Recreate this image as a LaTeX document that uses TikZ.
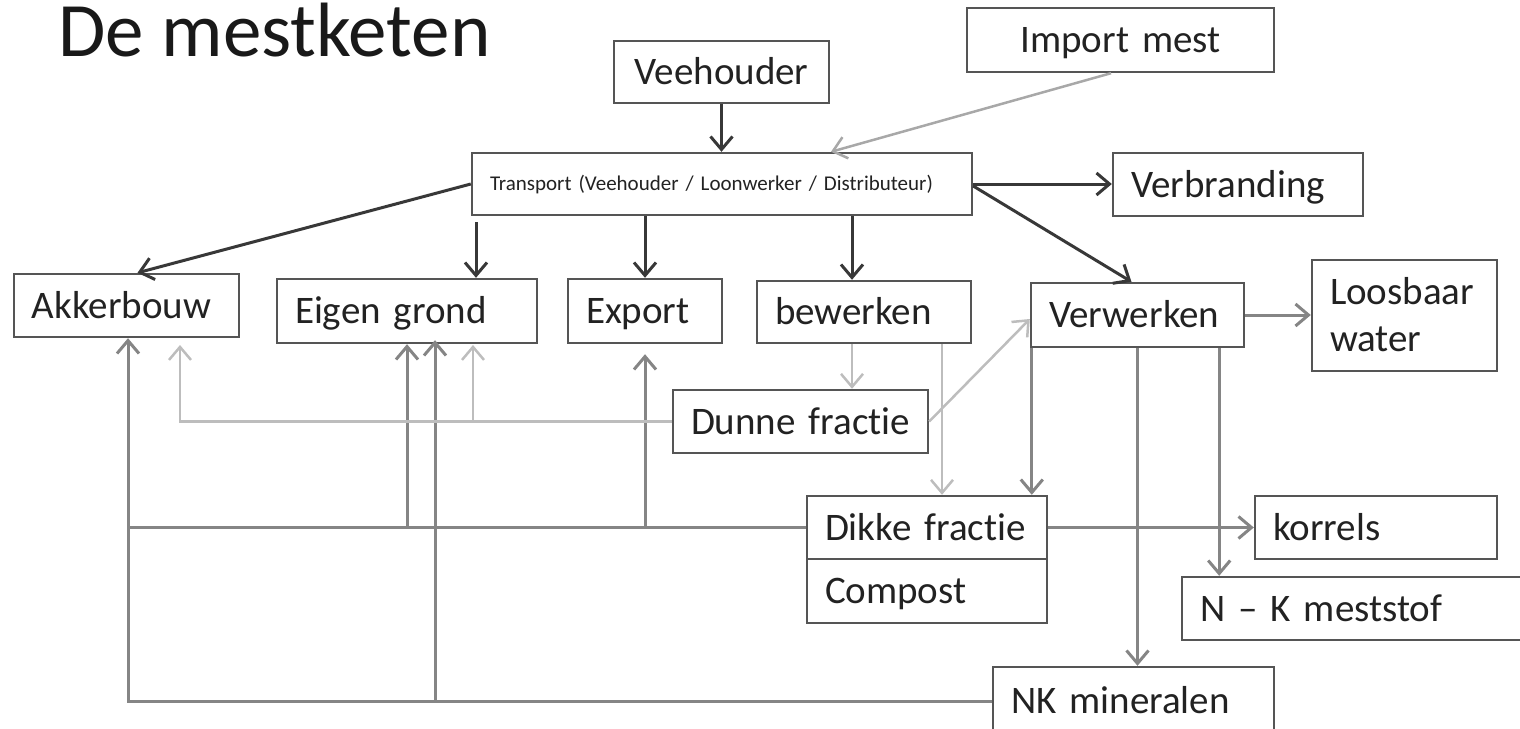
\documentclass[tikz,border=0pt]{standalone}
\usepackage{fontspec}
\setmainfont{Carlito}[Ligatures=NoCommon]
\usetikzlibrary{arrows.meta}
\definecolor{darkc}{HTML}{383838}
\definecolor{midc}{HTML}{858585}
\definecolor{lightc}{HTML}{BDBDBD}
\definecolor{impc}{HTML}{A8A8A8}
\definecolor{boxc}{HTML}{555555}
\definecolor{textc}{HTML}{222222}
\begin{document}
\begin{tikzpicture}[x=0.5pt,y=-0.5pt,
  box/.style={draw=boxc, line width=1.2pt, fill=white, inner xsep=9pt, inner ysep=0pt, text=textc,
    align=left, font=\fontsize{19.5}{23.5}\selectfont, text height=12.5pt, text depth=0pt},
  tip/.style={-{Straight Barb[length=6.5pt,width=11pt]}},
  darkarr/.style={tip, draw=darkc, line width=1.5pt},
  midarr/.style={tip, draw=midc, line width=1.5pt},
  midline/.style={draw=midc, line width=1.5pt},
  lightarr/.style={tip, draw=lightc, line width=1.25pt},
  lightline/.style={draw=lightc, line width=1.25pt},
  imparr/.style={tip, draw=impc, line width=1.25pt}]
\useasboundingbox (0,0) rectangle (1520,728);

\node[anchor=base west, inner sep=0pt, font=\fontsize{38.5}{46}\selectfont, text=black!90] (title) at (58,56) {De mestketen};

\node[box, align=center, minimum width=107.5pt, minimum height=31pt, text width=89.5pt] (veeh) at (721.5,72) {Veehouder};
\node[box, align=center, minimum width=153.5pt, minimum height=32pt, text width=135.5pt] (import) at (1120.5,40) {Import mest};
\node[box, minimum width=250pt, minimum height=31pt, text width=232pt, font=\fontsize{10.5}{12}\selectfont, text height=6.75pt] (transport) at (722,184) {Transport (Veehouder / Loonwerker / Distributeur)};
\node[box, minimum width=125pt, minimum height=31.5pt, text width=107pt] (verbr) at (1238,184.5) {Verbranding};
\node[box, minimum width=112.5pt, minimum height=31.5pt, text width=94.5pt] (akker) at (126.5,305.5) {Akkerbouw};
\node[box, minimum width=130pt, minimum height=32pt, text width=112pt] (eigen) at (407,311) {Eigen grond};
\node[box, minimum width=77pt, minimum height=32pt, text width=59pt] (export) at (645,311) {Export};
\node[box, minimum width=107pt, minimum height=31pt, text width=89pt] (bewerk) at (864,312) {bewerken};
\node[box, minimum width=106.5pt, minimum height=32pt, text width=88.5pt] (verwerk) at (1137.5,315) {Verwerken};
\node[box, minimum width=92.5pt, minimum height=55.5pt, text width=74.5pt, text depth=23.5pt] (loos) at (1404.5,315.5) {Loosbaar\\water};
\node[box, minimum width=127.5pt, minimum height=31.5pt, text width=109.5pt] (dunne) at (800.5,421.5) {\mbox{Dunne fractie}};
\node[box, minimum width=120pt, minimum height=31.5pt, text width=102pt] (dikke) at (927,527.5) {\mbox{Dikke fractie}};
\node[box, minimum width=120pt, minimum height=32pt, text width=102pt] (compost) at (927,591) {Compost};
\node[box, minimum width=121pt, minimum height=31.5pt, text width=103pt] (korrels) at (1376,527.5) {korrels};
\node[box, minimum width=179pt, minimum height=31.5pt, text width=161pt] (nkmest) at (1361,608.5) {N – K meststof};
\node[box, minimum width=140.5pt, minimum height=34pt, text width=122.5pt] (nkmin) at (1133.5,701) {NK mineralen};

% dark connectors from Veehouder / Transport
\draw[darkarr] (veeh.south) -- (veeh.south |- transport.north);
\draw[darkarr] (transport.west) -- ([xshift=5.5pt]akker.north);
\coordinate (egstart) at (476,222);
\draw[darkarr] (egstart) -- (egstart |- eigen.north);
\draw[darkarr] (export.north |- transport.south) -- (export.north);
\draw[darkarr] ([xshift=-6pt]bewerk.north |- transport.south) -- ([xshift=-6pt]bewerk.north);
\draw[darkarr] (transport.east) -- (transport.east -| verbr.west);
\draw[darkarr] ([yshift=-1pt]transport.east) -- ([xshift=-3pt]verwerk.north);

% import
\draw[imparr] ([xshift=-4.75pt]import.south) -- ([xshift=54.5pt]transport.north);

% mid grey
\draw[midarr] (verwerk.east) -- (verwerk.east -| loos.west);
\draw[midarr] ([xshift=1pt]verwerk.south west) -- ([xshift=1pt]verwerk.south west |- dikke.north);
\draw[midarr] (verwerk.south) -- (verwerk.south |- nkmin.north);
\draw[midarr] ([xshift=-13pt]verwerk.south east) -- ([xshift=-13pt]verwerk.south east |- nkmest.north);
\draw[midarr] (dikke.east) -- (dikke.east -| korrels.west);
\draw[midline] (dikke.west) -- ([xshift=0.75pt]dikke.west -| akker.south);
\draw[midarr] (nkmin.west) -- ([xshift=0.75pt]nkmin.west -| akker.south) -- ([xshift=0.75pt]akker.south);
\draw[midarr] (eigen.south |- dikke.west) -- (eigen.south);
\draw[midarr, shorten >=5pt] (export.south |- dikke.west) -- (export.south);
\draw[midarr] ([xshift=14pt]eigen.south |- nkmin.west) -- ([xshift=14pt,yshift=2pt]eigen.south);

% light grey
\draw[lightarr] ([xshift=-6pt]bewerk.south) -- ([xshift=-6pt]bewerk.south |- dunne.north);
\draw[lightarr] ([xshift=39pt]bewerk.south) -- ([xshift=39pt]bewerk.south |- dikke.north);
\draw[lightarr] (dunne.east) -- ([yshift=-2pt]verwerk.west);
\coordinate (akl) at (180,345);
\draw[lightarr] (dunne.west) -- (dunne.west -| akl) -- (akl);
\coordinate (egl) at (473,345);
\draw[lightarr] (egl |- dunne.west) -- (egl);
\end{tikzpicture}
\end{document}
